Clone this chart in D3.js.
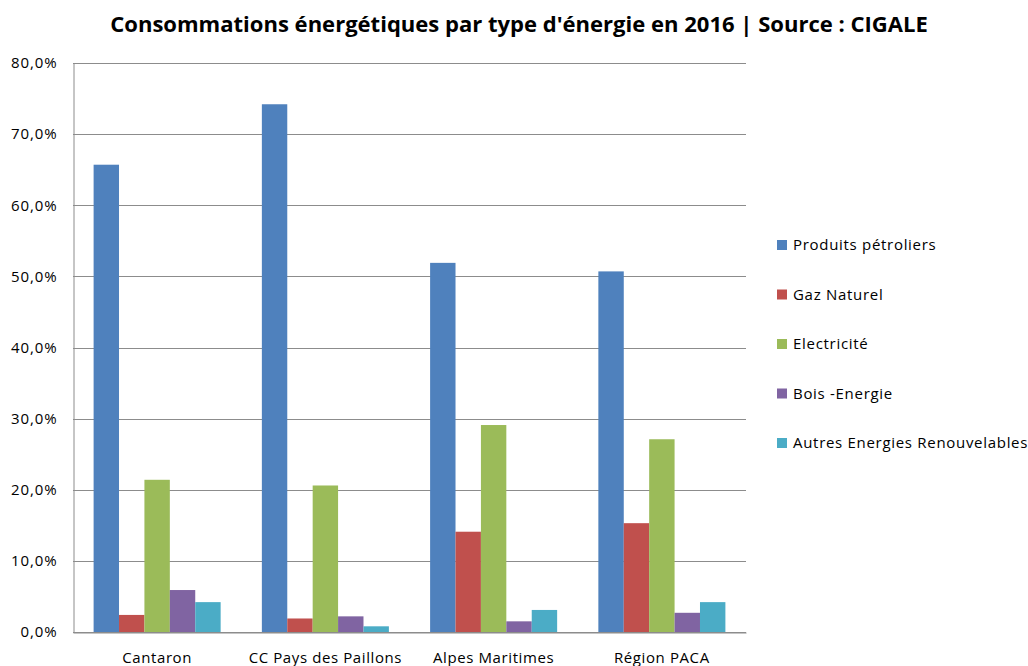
<!DOCTYPE html>
<html>
<head>
<meta charset="utf-8">
<script src="https://cdn.jsdelivr.net/npm/d3@7"></script>
<style>
  html, body { margin: 0; padding: 0; background: #fff; }
  svg { display: block; }
  text { font-family: "Open Sans", "Noto Sans", sans-serif; fill: #000; }
</style>
</head>
<body>
<svg id="chart" width="1028" height="666"></svg>
<script>
// Share of energy consumption by energy type, 2016 (percent)
const categories = ["Cantaron", "CC Pays des Paillons", "Alpes Maritimes", "Région PACA"];
const seriesNames = ["Produits pétroliers", "Gaz Naturel", "Electricité", "Bois -Energie", "Autres Energies Renouvelables"];
const produitsPetroliers = [65.7, 74.2, 51.9, 50.7];
const gazNaturel = [2.4, 1.9, 14.1, 15.3];
const electricite = [21.4, 20.6, 29.1, 27.1];
const boisEnergie = [5.9, 2.2, 1.5, 2.7];
const autresENR = [4.2, 0.8, 3.1, 4.2];
const yTicks = [0, 10, 20, 30, 40, 50, 60, 70, 80];
const colors = ["#4F81BD", "#C0504D", "#9BBB59", "#8064A2", "#4BACC6"];
const title = "Consommations énergétiques par type d'énergie en 2016 | Source : CIGALE";

const seriesValues = [produitsPetroliers, gazNaturel, electricite, boisEnergie, autresENR];

const svg = d3.select("#chart");
const margin = { left: 73, top: 63, right: 746, bottom: 632 };

const x0 = d3.scaleBand().domain(categories).range([margin.left, margin.right]).paddingInner(0.245).paddingOuter(0.1225);
const x1 = d3.scaleBand().domain(seriesNames).range([0, x0.bandwidth()]);
const y = d3.scaleLinear().domain([0, 80]).range([margin.bottom, margin.top]);

const fmt = v => d3.format(".1f")(v).replace(".", ",") + "%";

// gridlines
svg.append("g")
  .selectAll("line")
  .data(yTicks)
  .join("line")
  .attr("x1", margin.left).attr("x2", margin.right)
  .attr("y1", d => Math.round(y(d)) + 0.5).attr("y2", d => Math.round(y(d)) + 0.5)
  .attr("stroke", "#8c8c8c").attr("stroke-width", 1);

// y axis
const yAxis = svg.append("g")
  .attr("transform", `translate(${margin.left + 0.5},0)`)
  .call(d3.axisLeft(y).tickValues(yTicks).tickFormat(fmt).tickSize(0).tickPadding(16));
yAxis.select(".domain").attr("stroke", "#8c8c8c");
yAxis.selectAll("text")
  .style("font-size", "15px").style("letter-spacing", "0.9px")
  .style("font-family", "'Open Sans', sans-serif").attr("fill", "#000");

// bars
const groups = svg.append("g")
  .selectAll("g")
  .data(categories)
  .join("g")
  .attr("transform", d => `translate(${x0(d)},0)`);

groups.selectAll("rect")
  .data((c, i) => seriesNames.map((s, j) => ({ s, j, v: seriesValues[j][i] })))
  .join("rect")
  .attr("x", d => x1(d.s))
  .attr("width", x1.bandwidth())
  .attr("y", d => y(d.v))
  .attr("height", d => y(0) - y(d.v))
  .attr("fill", d => colors[d.j]);

// x axis
const xAxis = svg.append("g")
  .attr("transform", `translate(0,${Math.round(y(0)) + 0.5})`)
  .call(d3.axisBottom(x0).tickSize(0).tickPadding(20));
xAxis.select(".domain").attr("stroke", "#8c8c8c");
xAxis.selectAll("text")
  .style("font-size", "15px").style("letter-spacing", "0.6px")
  .style("font-family", "'Open Sans', sans-serif").attr("fill", "#000");

// title, sized to its intended width
const t = svg.append("text")
  .attr("x", 519).attr("y", 32)
  .attr("text-anchor", "middle")
  .style("font-weight", "bold")
  .style("font-size", "20px")
  .text(title);
const w = t.node().getComputedTextLength();
t.style("font-size", (20 * 818 / w) + "px");

// legend
const legend = svg.append("g")
  .selectAll("g")
  .data(seriesNames)
  .join("g")
  .attr("transform", (d, i) => `translate(777,${245 + i * 49.5})`);
legend.append("rect")
  .attr("x", 0).attr("y", -5).attr("width", 10).attr("height", 10)
  .attr("fill", (d, i) => colors[i]);
legend.append("text")
  .attr("x", 16).attr("y", 0).attr("dy", "0.35em")
  .style("font-size", "15px").style("letter-spacing", "0.7px")
  .text(d => d);
</script>
</body>
</html>
